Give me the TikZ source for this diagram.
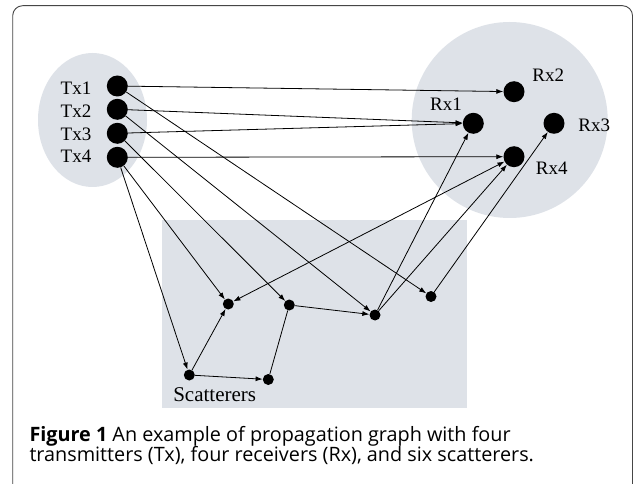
\documentclass[tikz,border=0pt]{standalone}
\usepackage{fontspec}
\setmainfont{Liberation Serif}
\newfontfamily\capfont{Open Sans}
\usetikzlibrary{arrows.meta}
\definecolor{zone}{RGB}{222,226,232}
\definecolor{framec}{RGB}{70,70,70}
\tikzset{
  bigdot/.style={circle,fill=black,inner sep=0pt,minimum size=21pt},
  smalldot/.style={circle,fill=black,inner sep=0pt,minimum size=11pt},
  lbl/.style={font=\fontsize{19}{21}\selectfont,inner sep=0pt},
  arr/.style={-{Latex[length=7pt,width=5pt]},line width=0.8pt},
  plainline/.style={line width=0.8pt},
  captext/.style={font=\capfont\fontsize{19.8}{21}\selectfont,inner sep=0pt,anchor=base west}
}
\begin{document}
\begin{tikzpicture}[x=1pt,y=-1pt]
\useasboundingbox (0,0) rectangle (635,484);
\fill[white] (0,0) rectangle (635,484);
% frame
\draw[framec,line width=0.9pt,rounded corners=10pt] (12.7,495) -- (12.7,5.7) -- (632.5,5.7) -- (632.5,495);
% zones
\fill[zone] (92.5,120) ellipse [x radius=54.5, y radius=67];
\fill[zone] (509.7,120) circle [radius=98];
\fill[zone] (161.7,220) rectangle (467.3,408.3);
% transmitters
\node[bigdot] (tx1) at (117.3,86) {};
\node[bigdot] (tx2) at (117.3,109.3) {};
\node[bigdot] (tx3) at (117.3,133.3) {};
\node[bigdot] (tx4) at (117.3,157.3) {};
\node[lbl] (ltx1) at (76,88.3) {Tx1};
\node[lbl] (ltx2) at (76,111.3) {Tx2};
\node[lbl] (ltx3) at (76,134.3) {Tx3};
\node[lbl] (ltx4) at (76,156.7) {Tx4};
% receivers
\node[bigdot] (rx1) at (473.3,123.3) {};
\node[bigdot] (rx2) at (514,91.7) {};
\node[bigdot] (rx3) at (554,123.3) {};
\node[bigdot] (rx4) at (514,156.7) {};
\node[lbl] (lrx1) at (446,104) {Rx1};
\node[lbl] (lrx2) at (548.3,75) {Rx2};
\node[lbl] (lrx3) at (594.3,125) {Rx3};
\node[lbl] (lrx4) at (551.7,168.3) {Rx4};
% scatterers
\node[smalldot] (s1) at (189.3,375) {};
\node[smalldot] (s2) at (268.3,379.5) {};
\node[smalldot] (s3) at (228.3,304) {};
\node[smalldot] (s4) at (289.3,305) {};
\node[smalldot] (s5) at (375,315) {};
\node[smalldot] (s6) at (431,296.5) {};
\node[lbl,font=\fontsize{21}{23}\selectfont,anchor=base] (lsc) at (214.7,401.7) {Scatterers};
% edges
\draw[arr] (tx1) -- (rx2);
\draw[arr] (tx1) -- (s6);
\draw[arr] (tx2) -- (rx1);
\draw[arr] (tx2) -- (s5);
\draw[arr] (tx3) -- (rx1);
\draw[arr] (tx3) -- (s4);
\draw[arr] (tx4) -- (rx4);
\draw[arr] (tx4) -- (s3);
\draw[arr] (tx4) -- (s1);
\draw[arr] (s1) -- (s2);
\draw[arr] (s1) -- (s3);
\draw[plainline] (s4) -- (s2);
\draw[arr] (s4) -- (s5);
\draw[arr,{Latex[length=7pt,width=5pt]}-{Latex[length=7pt,width=5pt]}] (s3) -- (rx4);
\draw[arr] (s5) -- (rx1);
\draw[arr] (s5) -- (rx4);
\draw[arr] (s6) -- (rx3);
% caption
\node[captext] (cap1) at (29.3,441.7) {\textbf{Figure 1} An example of propagation graph with four};
\node[captext] (cap2) at (29.3,461.7) {transmitters (Tx), four receivers (Rx), and six scatterers.};
\end{tikzpicture}
\end{document}
